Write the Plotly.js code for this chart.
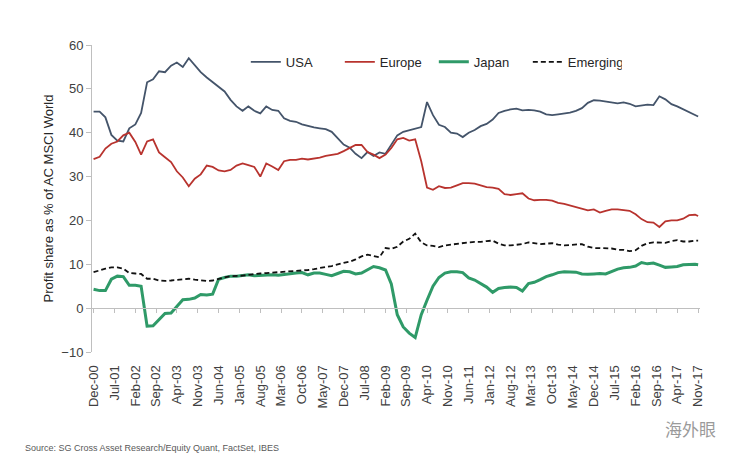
<!DOCTYPE html>
<html>
<head>
<meta charset="utf-8">
<script src="https://cdn.plot.ly/plotly-3.0.1.min.js"></script>
<style>
  html, body { margin: 0; padding: 0; background: #fff; }
  #chart { width: 739px; height: 460px; }
</style>
</head>
<body>
<div id="chart"></div>
<script>
// Profit share of AC MSCI World, sampled every two months from Dec-00 to Nov-17
const usa = [
  44.8, 44.8, 43.5, 39.5, 38.2, 38.0, 41.0, 41.9, 44.5, 51.5,
  52.2, 54.0, 53.8, 55.3, 56.0, 55.0, 57.0, 55.3, 53.8, 52.6,
  51.5, 50.3, 49.4, 47.5, 46.0, 45.0, 46.0, 45.0, 44.4, 46.0,
  45.2, 45.0, 43.3, 42.7, 42.5, 41.9, 41.5, 41.2, 41.0, 40.8,
  40.2, 38.7, 37.3, 36.6, 35.2, 34.2, 35.6, 34.7, 35.5, 35.2,
  37.2, 39.4, 40.2, 40.6, 41.0, 41.3, 47.0, 44.0, 41.8, 41.3,
  40.0, 39.8, 39.0, 40.0, 40.6, 41.5, 42.0, 43.0, 44.5, 45.0,
  45.3, 45.5, 45.1, 45.2, 45.1, 44.8, 44.2, 44.0, 44.2, 44.4,
  44.6, 45.0, 45.6, 46.8, 47.4, 47.3, 47.1, 47.0, 46.7, 46.9,
  46.6, 46.0, 46.2, 46.4, 46.3, 48.3, 47.6, 46.5, 46.0, 45.3,
  44.6, 44.0, 43.7
];
const europe = [
  34.0, 34.5, 36.4, 37.5, 38.0, 39.4, 40.0, 37.9, 35.0, 38.0,
  38.5, 35.5, 34.4, 33.3, 31.2, 29.8, 27.8, 29.5, 30.5, 32.5,
  32.2, 31.4, 31.2, 31.5, 32.5, 33.0, 32.6, 32.2, 30.0, 33.0,
  32.3, 31.5, 33.5, 33.8, 33.8, 34.1, 33.9, 34.1, 34.3, 34.7,
  34.9, 35.2, 35.8, 36.6, 37.2, 37.2, 35.6, 35.0, 34.2, 35.0,
  36.5, 38.5, 38.8, 38.2, 38.5, 33.5, 27.5, 27.0, 27.8, 27.4,
  27.5, 28.0, 28.5, 28.5, 28.4, 28.0, 27.6, 27.5, 27.2, 26.0,
  25.8, 26.0, 26.2, 25.0, 24.6, 24.7, 24.7, 24.5, 24.0, 23.8,
  23.4, 23.0, 22.7, 22.3, 22.5, 21.8, 22.2, 22.5, 22.5, 22.4,
  22.2, 21.4, 20.3, 19.6, 19.5, 18.5, 19.8, 20.0, 20.0, 20.4,
  21.2, 21.3, 21.0
];
const japan = [
  4.3, 4.0, 4.0, 6.6, 7.3, 7.2, 5.2, 5.2, 5.0, -4.1,
  -4.0, -2.5, -1.2, -1.1, 0.5, 1.9, 2.0, 2.3, 3.1, 3.0,
  3.2, 6.6, 7.0, 7.3, 7.3, 7.4, 7.6, 7.4, 7.5, 7.6,
  7.6, 7.5, 7.7, 7.9, 8.0, 8.1, 7.6, 8.0, 8.0, 7.7,
  7.4, 7.9, 8.4, 8.3, 7.8, 8.0, 8.8, 9.5, 9.2, 8.7,
  5.5, -1.5, -4.3, -5.7, -6.7, -1.5, 1.8, 5.0, 7.0, 8.0,
  8.3, 8.3, 8.1, 6.9, 6.4, 5.6, 4.8, 3.6, 4.5, 4.7,
  4.8, 4.7, 3.9, 5.6, 5.9, 6.5, 7.2, 7.6, 8.1, 8.3,
  8.3, 8.2, 7.8, 7.7, 7.8, 7.9, 7.8, 8.3, 8.9, 9.2,
  9.3, 9.6, 10.4, 10.1, 10.3, 9.8, 9.3, 9.4, 9.5, 9.9,
  10.0, 10.0, 9.9
];
const emerging = [
  8.2, 8.7, 9.0, 9.3, 9.3, 9.0, 8.0, 7.9, 7.8, 6.7,
  6.7, 6.3, 6.2, 6.3, 6.4, 6.5, 6.7, 6.5, 6.3, 6.2,
  6.3, 6.7, 7.0, 7.3, 7.3, 7.4, 7.6, 7.8, 7.9, 8.0,
  8.1, 8.1, 8.3, 8.4, 8.4, 8.5, 8.7, 8.9, 9.2, 9.4,
  9.6, 10.0, 10.3, 10.6, 11.1, 11.8, 12.2, 11.9, 11.6, 13.7,
  13.5, 14.0, 15.2, 15.8, 17.0, 15.0, 14.3, 14.2, 13.9, 14.3,
  14.5, 14.6, 14.8, 15.0, 15.1, 15.1, 15.3, 15.4, 14.7, 14.3,
  14.3, 14.4, 14.6, 15.0, 14.8, 14.6, 14.7, 14.8, 14.5, 14.3,
  14.4, 14.5, 14.6, 14.0, 13.7, 13.7, 13.6, 13.6, 13.3, 13.3,
  13.0, 13.2, 14.2, 14.8, 15.0, 15.0, 14.9, 15.3, 15.5, 15.2,
  15.2, 15.4, 15.4
];

// month offsets from Dec-00: every second month, plus the last one (Nov-17)
const monthOffsets = [];
for (let m = 0; m <= 202; m += 2) monthOffsets.push(m);
monthOffsets.push(203);

function monthAt(offset) {
  const total = 2000 * 12 + 11 + offset; // Dec 2000 is month index 11
  const y = Math.floor(total / 12);
  const mo = (total % 12) + 1;
  return `${y}-${String(mo).padStart(2, "0")}-01`;
}
const dates = monthOffsets.map(monthAt);

const FONT = "Arial, 'Liberation Sans', sans-serif";
const AXIS_GREY = "#bfbfbf";
const xRange = ["2000-11-15", "2017-11-20"];

const series = [
  { name: "USA", y: usa, color: "#44546a", width: 1.8 },
  { name: "Europe", y: europe, color: "#b8332e", width: 1.8 },
  { name: "Japan", y: japan, color: "#2f9a68", width: 3 },
  { name: "Emerging", y: emerging, color: "#111111", width: 1.8, dash: "5px,3px" },
];

const traces = series.map((s) => ({
  type: "scatter",
  mode: "lines",
  name: s.name,
  x: dates,
  y: s.y,
  line: { color: s.color, width: s.width, dash: s.dash || "solid" },
}));

// helper trace so the zero-line axis (x2) gets drawn
traces.push({
  type: "scatter",
  mode: "lines",
  x: [dates[0]],
  y: [null],
  xaxis: "x2",
  showlegend: false,
  hoverinfo: "skip",
});

const layout = {
  width: 739,
  height: 460,
  paper_bgcolor: "#ffffff",
  plot_bgcolor: "#ffffff",
  font: { family: FONT, size: 13, color: "#404040" },
  margin: { l: 92, r: 39, t: 45, b: 108 },
  showlegend: true,
  legend: {
    orientation: "h",
    x: 0.253,
    xanchor: "left",
    y: 0.945,
    yanchor: "middle",
    entrywidth: 49,
    bgcolor: "rgba(0,0,0,0)",
    font: { family: FONT, size: 13, color: "#262626" },
  },
  xaxis: {
    type: "date",
    range: xRange,
    tick0: "2000-12-01",
    dtick: "M7",
    tickformat: "%b-%y",
    tickangle: -90,
    ticks: "outside",
    ticklen: 7,
    tickcolor: "rgba(0,0,0,0)",
    showline: false,
    showgrid: false,
    zeroline: false,
    tickfont: { family: FONT, size: 13, color: "#404040" },
  },
  xaxis2: {
    type: "date",
    overlaying: "x",
    anchor: "free",
    position: 1 / 7,
    range: xRange,
    tick0: "2000-12-01",
    dtick: "M7",
    ticks: "outside",
    ticklen: 4,
    tickcolor: AXIS_GREY,
    showticklabels: false,
    showline: true,
    linecolor: AXIS_GREY,
    linewidth: 1,
    showgrid: false,
    zeroline: false,
  },
  yaxis: {
    range: [-10, 60],
    dtick: 10,
    ticks: "outside",
    ticklen: 5,
    tickcolor: AXIS_GREY,
    showline: true,
    linecolor: AXIS_GREY,
    linewidth: 1,
    showgrid: false,
    zeroline: false,
    tickfont: { family: FONT, size: 13, color: "#404040" },
    title: {
      text: "Profit share as % of AC MSCI World",
      font: { family: FONT, size: 13, color: "#262626" },
      standoff: 4,
    },
  },
  annotations: [
    {
      xref: "paper",
      yref: "paper",
      x: -0.113,
      y: -0.313,
      xanchor: "left",
      yanchor: "middle",
      showarrow: false,
      text: "Source: SG Cross Asset Research/Equity Quant, FactSet, IBES",
      font: { family: FONT, size: 9, color: "#595959" },
    },
    {
      xref: "paper",
      yref: "paper",
      x: 0.985,
      y: -0.248,
      xanchor: "center",
      yanchor: "middle",
      showarrow: false,
      text: "海外眼",
      font: { family: "'Noto Sans CJK SC', sans-serif", size: 17, color: "#9a9a9a" },
    },
  ],
};

Plotly.newPlot("chart", traces, layout, { staticPlot: true });
</script>
</body>
</html>
